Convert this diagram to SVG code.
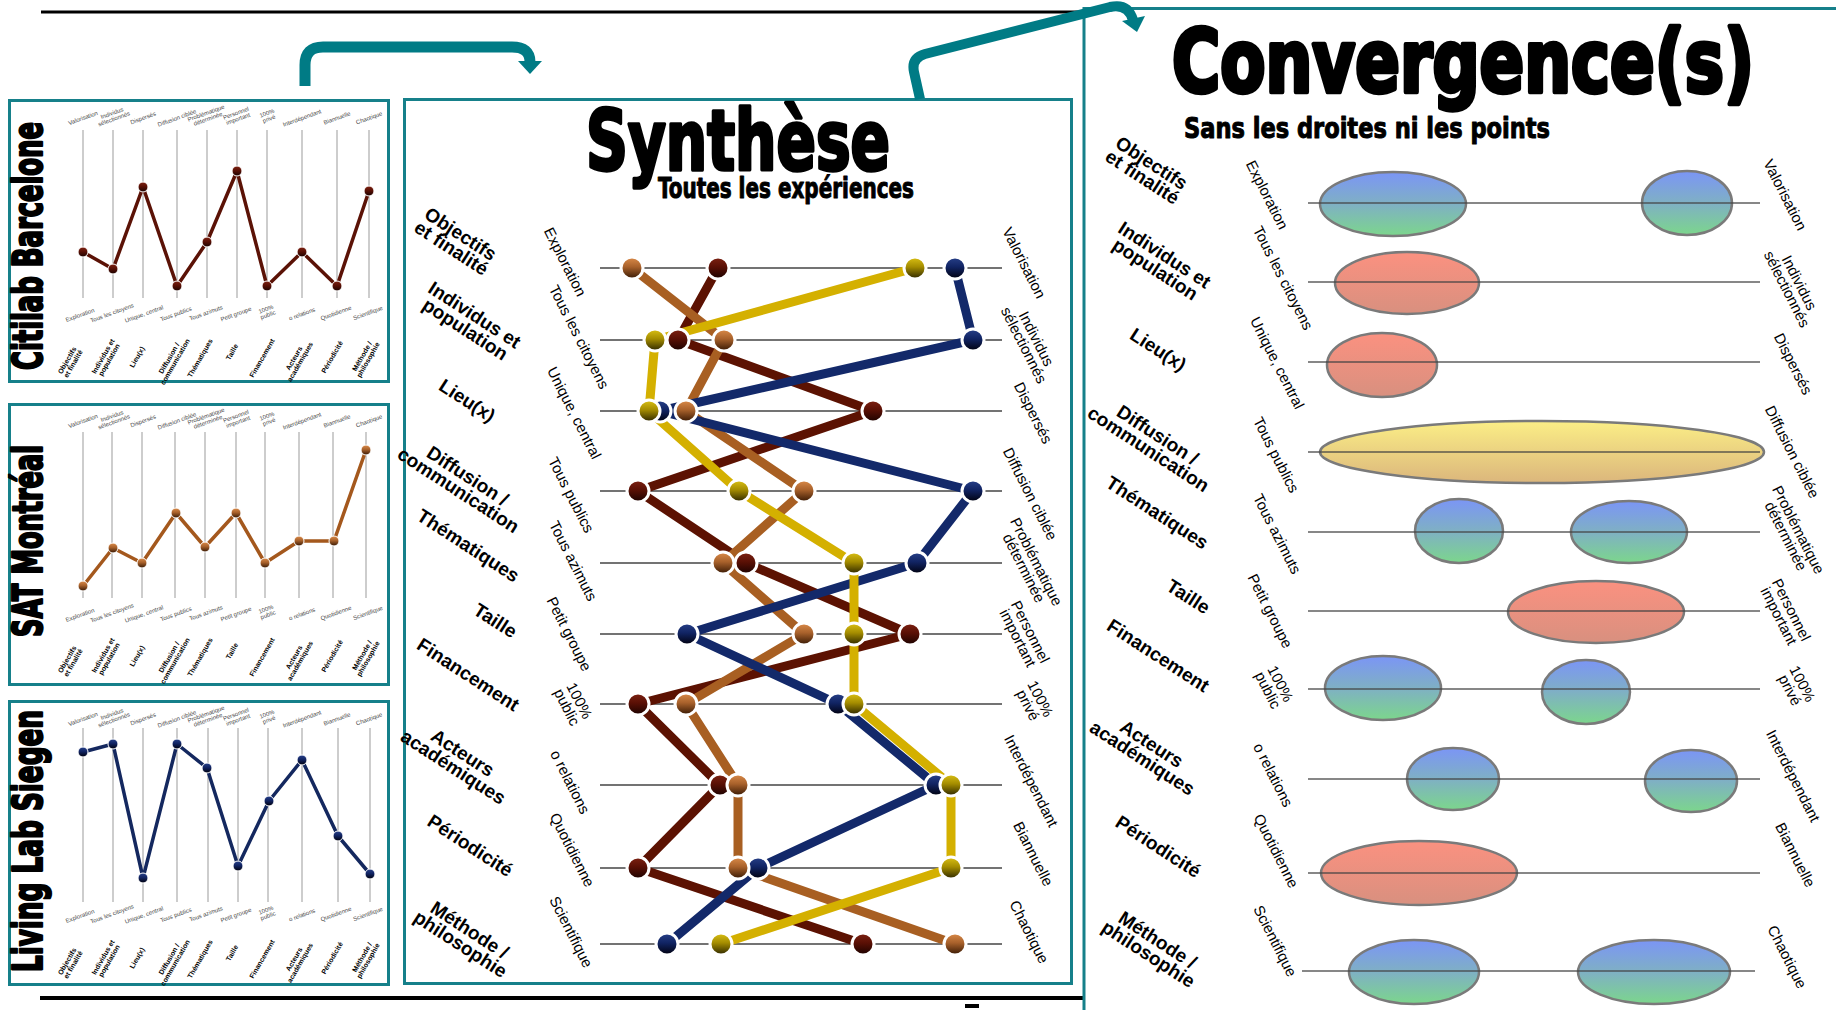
<svg xmlns="http://www.w3.org/2000/svg" width="1836" height="1010" viewBox="0 0 1836 1010">
<defs>
<style>
text{font-family:"Liberation Sans",Arial,sans-serif;fill:#000}
.panel{fill:#fff;stroke:#16808a;stroke-width:3}
.ttl{font-family:"Liberation Sans Narrow","DejaVu Sans Condensed","Liberation Sans",sans-serif;font-weight:700;stroke:#000;stroke-linejoin:round}
.cat{font-weight:700;font-size:19px;text-anchor:middle}
.pole{font-size:15px;text-anchor:middle}
.ax{stroke:#444;stroke-width:1.5}
.mg{stroke:#bdbdbd;stroke-width:1.5}
.ml{font-size:6px;fill:#444;text-anchor:middle}
.mc{font-size:7px;font-weight:700;text-anchor:middle}
.arrow{fill:none;stroke:#007b85;stroke-width:11}
.ah{fill:#007b85}
.s{fill:none;stroke-width:9;stroke-linejoin:round}
.ms{fill:none;stroke-width:3.5;stroke-linejoin:round}
.dot{stroke:#fff;stroke-width:3}
.mdot{stroke:#fff;stroke-width:1}
.ell{stroke:#7a7a7a;stroke-width:2.5}
.bl{stroke:#000;stroke-width:4}
</style>
<linearGradient id="gR" x1="0" y1="0" x2="0" y2="1"><stop offset="0" stop-color="#7e2212"/><stop offset="0.45" stop-color="#5a1005"/><stop offset="1" stop-color="#1a0200"/></linearGradient>
<linearGradient id="gO" x1="0" y1="0" x2="0" y2="1"><stop offset="0" stop-color="#dc8c4a"/><stop offset="0.45" stop-color="#a8612b"/><stop offset="1" stop-color="#351703"/></linearGradient>
<linearGradient id="gY" x1="0" y1="0" x2="0" y2="1"><stop offset="0" stop-color="#dcc215"/><stop offset="0.45" stop-color="#a48c00"/><stop offset="1" stop-color="#2b2500"/></linearGradient>
<linearGradient id="gN" x1="0" y1="0" x2="0" y2="1"><stop offset="0" stop-color="#28418a"/><stop offset="0.45" stop-color="#112463"/><stop offset="1" stop-color="#00000c"/></linearGradient>
<linearGradient id="eB" x1="0" y1="0" x2="0" y2="1"><stop offset="0" stop-color="#7b95f6"/><stop offset="0.5" stop-color="#7fb0c4"/><stop offset="1" stop-color="#7cd68c"/></linearGradient>
<linearGradient id="eS" x1="0" y1="0" x2="0" y2="1"><stop offset="0" stop-color="#fb9180"/><stop offset="1" stop-color="#d8907f"/></linearGradient>
<linearGradient id="eY" x1="0" y1="0" x2="0" y2="1"><stop offset="0" stop-color="#fbee86"/><stop offset="1" stop-color="#dbb67c"/></linearGradient>
</defs>
<rect width="1836" height="1010" fill="#fff"/>

<!-- frame lines -->
<g id="frame">
<line class="bl" x1="41" y1="12" x2="1084" y2="12" style="stroke-width:3"/>
<line class="bl" x1="40" y1="998" x2="1084" y2="998"/>
<rect x="965" y="1004" width="14" height="4" fill="#000"/>
</g>

<!-- Panel 1: Citilab Barcelone -->
<g id="citilab">
<rect class="panel" x="9.5" y="100.5" width="379" height="281"/>
<text class="ttl" font-size="40" style="stroke-width:2.2" transform="translate(42,370) rotate(-90)" textLength="248" lengthAdjust="spacingAndGlyphs">Citilab Barcelone</text>
<g>
<line class="mg" x1="83" y1="130" x2="83" y2="298"/><line class="mg" x1="113" y1="130" x2="113" y2="298"/><line class="mg" x1="143" y1="130" x2="143" y2="298"/><line class="mg" x1="177" y1="130" x2="177" y2="298"/><line class="mg" x1="207" y1="130" x2="207" y2="298"/><line class="mg" x1="237" y1="130" x2="237" y2="298"/><line class="mg" x1="267" y1="130" x2="267" y2="298"/><line class="mg" x1="302" y1="130" x2="302" y2="298"/><line class="mg" x1="337" y1="130" x2="337" y2="298"/><line class="mg" x1="369" y1="130" x2="369" y2="298"/>
</g>
<g>
<text class="ml" transform="translate(83,118) rotate(-20)" dy="2">Valorisation</text>
<text class="ml" transform="translate(113,116) rotate(-20)"><tspan x="0" dy="-1">Individus</tspan><tspan x="0" dy="6">sélectionnés</tspan></text>
<text class="ml" transform="translate(143,118) rotate(-20)" dy="2">Dispersés</text>
<text class="ml" transform="translate(177,118) rotate(-20)" dy="2">Diffusion ciblée</text>
<text class="ml" transform="translate(207,116) rotate(-20)"><tspan x="0" dy="-1">Problématique</tspan><tspan x="0" dy="6">déterminée</tspan></text>
<text class="ml" transform="translate(237,116) rotate(-20)"><tspan x="0" dy="-1">Personnel</tspan><tspan x="0" dy="6">important</tspan></text>
<text class="ml" transform="translate(268,116) rotate(-20)"><tspan x="0" dy="-1">100%</tspan><tspan x="0" dy="6">privé</tspan></text>
<text class="ml" transform="translate(302,118) rotate(-20)" dy="2">Interdépendant</text>
<text class="ml" transform="translate(337,118) rotate(-20)" dy="2">Biannuelle</text>
<text class="ml" transform="translate(369,118) rotate(-20)" dy="2">Chaotique</text>
<text class="ml" transform="translate(80,315) rotate(-20)" dy="2">Exploration</text>
<text class="ml" transform="translate(112,313) rotate(-20)" dy="2">Tous les citoyens</text>
<text class="ml" transform="translate(144,314) rotate(-20)" dy="2">Unique, central</text>
<text class="ml" transform="translate(176,314) rotate(-20)" dy="2">Tous publics</text>
<text class="ml" transform="translate(206,313) rotate(-20)" dy="2">Tous azimuts</text>
<text class="ml" transform="translate(236,314) rotate(-20)" dy="2">Petit groupe</text>
<text class="ml" transform="translate(267,312) rotate(-20)"><tspan x="0" dy="-1">100%</tspan><tspan x="0" dy="6">public</tspan></text>
<text class="ml" transform="translate(302,314) rotate(-20)" dy="2">o relations</text>
<text class="ml" transform="translate(336,313) rotate(-20)" dy="2">Quotidienne</text>
<text class="ml" transform="translate(368,313) rotate(-20)" dy="2">Scientifique</text>
<text class="mc" transform="translate(70,362) rotate(-60)"><tspan x="0" dy="-1">Objectifs</tspan><tspan x="0" dy="7">et finalité</tspan></text>
<text class="mc" transform="translate(106,358) rotate(-60)"><tspan x="0" dy="-1">Individus et</tspan><tspan x="0" dy="7">population</tspan></text>
<text class="mc" transform="translate(137,357) rotate(-60)" dy="2.5">Lieu(x)</text>
<text class="mc" transform="translate(172,360) rotate(-60)"><tspan x="0" dy="-1">Diffusion /</tspan><tspan x="0" dy="7">communication</tspan></text>
<text class="mc" transform="translate(200,358) rotate(-60)" dy="2.5">Thématiques</text>
<text class="mc" transform="translate(232,352) rotate(-60)" dy="2.5">Taille</text>
<text class="mc" transform="translate(262,358) rotate(-60)" dy="2.5">Financement</text>
<text class="mc" transform="translate(297,360) rotate(-60)"><tspan x="0" dy="-1">Acteurs</tspan><tspan x="0" dy="7">académiques</tspan></text>
<text class="mc" transform="translate(332,357) rotate(-60)" dy="2.5">Périodicité</text>
<text class="mc" transform="translate(365,358) rotate(-60)"><tspan x="0" dy="-1">Méthode /</tspan><tspan x="0" dy="7">philosophie</tspan></text>
</g>
<polyline class="ms" stroke="#5b1206" points="83,252 113,269 143,187 177,286 207,242 237,171 267,286 302,252 337,286 369,191"/>
<g fill="url(#gR)" class="mdot"><circle cx="83" cy="252" r="5"/><circle cx="113" cy="269" r="5"/><circle cx="143" cy="187" r="5"/><circle cx="177" cy="286" r="5"/><circle cx="207" cy="242" r="5"/><circle cx="237" cy="171" r="5"/><circle cx="267" cy="286" r="5"/><circle cx="302" cy="252" r="5"/><circle cx="337" cy="286" r="5"/><circle cx="369" cy="191" r="5"/></g>
</g>

<!-- Panel 2: SAT Montréal -->
<g id="sat">
<rect class="panel" x="9.5" y="404.5" width="379" height="280"/>
<text class="ttl" font-size="40" style="stroke-width:2.2" transform="translate(42,637) rotate(-90)" textLength="192" lengthAdjust="spacingAndGlyphs">SAT Montréal</text>
<g>
<line class="mg" x1="83" y1="432" x2="83" y2="598"/><line class="mg" x1="112" y1="432" x2="112" y2="598"/><line class="mg" x1="142" y1="432" x2="142" y2="598"/><line class="mg" x1="175" y1="432" x2="175" y2="598"/><line class="mg" x1="205" y1="432" x2="205" y2="598"/><line class="mg" x1="236" y1="432" x2="236" y2="598"/><line class="mg" x1="265" y1="432" x2="265" y2="598"/><line class="mg" x1="299" y1="432" x2="299" y2="598"/><line class="mg" x1="333" y1="432" x2="333" y2="598"/><line class="mg" x1="366" y1="432" x2="366" y2="598"/>
</g>
<g transform="translate(0,303)">
<text class="ml" transform="translate(83,118) rotate(-20)" dy="2">Valorisation</text>
<text class="ml" transform="translate(113,116) rotate(-20)"><tspan x="0" dy="-1">Individus</tspan><tspan x="0" dy="6">sélectionnés</tspan></text>
<text class="ml" transform="translate(143,118) rotate(-20)" dy="2">Dispersés</text>
<text class="ml" transform="translate(177,118) rotate(-20)" dy="2">Diffusion ciblée</text>
<text class="ml" transform="translate(207,116) rotate(-20)"><tspan x="0" dy="-1">Problématique</tspan><tspan x="0" dy="6">déterminée</tspan></text>
<text class="ml" transform="translate(237,116) rotate(-20)"><tspan x="0" dy="-1">Personnel</tspan><tspan x="0" dy="6">important</tspan></text>
<text class="ml" transform="translate(268,116) rotate(-20)"><tspan x="0" dy="-1">100%</tspan><tspan x="0" dy="6">privé</tspan></text>
<text class="ml" transform="translate(302,118) rotate(-20)" dy="2">Interdépendant</text>
<text class="ml" transform="translate(337,118) rotate(-20)" dy="2">Biannuelle</text>
<text class="ml" transform="translate(369,118) rotate(-20)" dy="2">Chaotique</text>
<text class="ml" transform="translate(80,312) rotate(-20)" dy="2">Exploration</text>
<text class="ml" transform="translate(112,310) rotate(-20)" dy="2">Tous les citoyens</text>
<text class="ml" transform="translate(144,311) rotate(-20)" dy="2">Unique, central</text>
<text class="ml" transform="translate(176,311) rotate(-20)" dy="2">Tous publics</text>
<text class="ml" transform="translate(206,310) rotate(-20)" dy="2">Tous azimuts</text>
<text class="ml" transform="translate(236,311) rotate(-20)" dy="2">Petit groupe</text>
<text class="ml" transform="translate(267,309) rotate(-20)"><tspan x="0" dy="-1">100%</tspan><tspan x="0" dy="6">public</tspan></text>
<text class="ml" transform="translate(302,311) rotate(-20)" dy="2">o relations</text>
<text class="ml" transform="translate(336,310) rotate(-20)" dy="2">Quotidienne</text>
<text class="ml" transform="translate(368,310) rotate(-20)" dy="2">Scientifique</text>
<text class="mc" transform="translate(70,358) rotate(-60)"><tspan x="0" dy="-1">Objectifs</tspan><tspan x="0" dy="7">et finalité</tspan></text>
<text class="mc" transform="translate(106,354) rotate(-60)"><tspan x="0" dy="-1">Individus et</tspan><tspan x="0" dy="7">population</tspan></text>
<text class="mc" transform="translate(137,353) rotate(-60)" dy="2.5">Lieu(x)</text>
<text class="mc" transform="translate(172,356) rotate(-60)"><tspan x="0" dy="-1">Diffusion /</tspan><tspan x="0" dy="7">communication</tspan></text>
<text class="mc" transform="translate(200,354) rotate(-60)" dy="2.5">Thématiques</text>
<text class="mc" transform="translate(232,348) rotate(-60)" dy="2.5">Taille</text>
<text class="mc" transform="translate(262,354) rotate(-60)" dy="2.5">Financement</text>
<text class="mc" transform="translate(297,356) rotate(-60)"><tspan x="0" dy="-1">Acteurs</tspan><tspan x="0" dy="7">académiques</tspan></text>
<text class="mc" transform="translate(332,353) rotate(-60)" dy="2.5">Périodicité</text>
<text class="mc" transform="translate(365,354) rotate(-60)"><tspan x="0" dy="-1">Méthode /</tspan><tspan x="0" dy="7">philosophie</tspan></text>
</g>
<polyline class="ms" stroke="#a4581d" points="83,586 113,548 142,563 176,513 205,547 236,513 265,563 299,541 334,541 366,450"/>
<g fill="url(#gO)" class="mdot"><circle cx="83" cy="586" r="5"/><circle cx="113" cy="548" r="5"/><circle cx="142" cy="563" r="5"/><circle cx="176" cy="513" r="5"/><circle cx="205" cy="547" r="5"/><circle cx="236" cy="513" r="5"/><circle cx="265" cy="563" r="5"/><circle cx="299" cy="541" r="5"/><circle cx="334" cy="541" r="5"/><circle cx="366" cy="450" r="5"/></g>
</g>

<!-- Panel 3: Living Lab Siegen -->
<g id="siegen">
<rect class="panel" x="9.5" y="701.5" width="379" height="283"/>
<text class="ttl" font-size="40" style="stroke-width:2.2" transform="translate(42,972) rotate(-90)" textLength="262" lengthAdjust="spacingAndGlyphs">Living Lab Siegen</text>
<g>
<line class="mg" x1="83" y1="728" x2="83" y2="902"/><line class="mg" x1="113" y1="728" x2="113" y2="902"/><line class="mg" x1="143" y1="728" x2="143" y2="902"/><line class="mg" x1="177" y1="728" x2="177" y2="902"/><line class="mg" x1="208" y1="728" x2="208" y2="902"/><line class="mg" x1="238" y1="728" x2="238" y2="902"/><line class="mg" x1="268" y1="728" x2="268" y2="902"/><line class="mg" x1="302" y1="728" x2="302" y2="902"/><line class="mg" x1="338" y1="728" x2="338" y2="902"/><line class="mg" x1="370" y1="728" x2="370" y2="902"/>
</g>
<g transform="translate(0,601)">
<text class="ml" transform="translate(83,118) rotate(-20)" dy="2">Valorisation</text>
<text class="ml" transform="translate(113,116) rotate(-20)"><tspan x="0" dy="-1">Individus</tspan><tspan x="0" dy="6">sélectionnés</tspan></text>
<text class="ml" transform="translate(143,118) rotate(-20)" dy="2">Dispersés</text>
<text class="ml" transform="translate(177,118) rotate(-20)" dy="2">Diffusion ciblée</text>
<text class="ml" transform="translate(207,116) rotate(-20)"><tspan x="0" dy="-1">Problématique</tspan><tspan x="0" dy="6">déterminée</tspan></text>
<text class="ml" transform="translate(237,116) rotate(-20)"><tspan x="0" dy="-1">Personnel</tspan><tspan x="0" dy="6">important</tspan></text>
<text class="ml" transform="translate(268,116) rotate(-20)"><tspan x="0" dy="-1">100%</tspan><tspan x="0" dy="6">privé</tspan></text>
<text class="ml" transform="translate(302,118) rotate(-20)" dy="2">Interdépendant</text>
<text class="ml" transform="translate(337,118) rotate(-20)" dy="2">Biannuelle</text>
<text class="ml" transform="translate(369,118) rotate(-20)" dy="2">Chaotique</text>
<text class="ml" transform="translate(80,315) rotate(-20)" dy="2">Exploration</text>
<text class="ml" transform="translate(112,313) rotate(-20)" dy="2">Tous les citoyens</text>
<text class="ml" transform="translate(144,314) rotate(-20)" dy="2">Unique, central</text>
<text class="ml" transform="translate(176,314) rotate(-20)" dy="2">Tous publics</text>
<text class="ml" transform="translate(206,313) rotate(-20)" dy="2">Tous azimuts</text>
<text class="ml" transform="translate(236,314) rotate(-20)" dy="2">Petit groupe</text>
<text class="ml" transform="translate(267,312) rotate(-20)"><tspan x="0" dy="-1">100%</tspan><tspan x="0" dy="6">public</tspan></text>
<text class="ml" transform="translate(302,314) rotate(-20)" dy="2">o relations</text>
<text class="ml" transform="translate(336,313) rotate(-20)" dy="2">Quotidienne</text>
<text class="ml" transform="translate(368,313) rotate(-20)" dy="2">Scientifique</text>
<text class="mc" transform="translate(70,362) rotate(-60)"><tspan x="0" dy="-1">Objectifs</tspan><tspan x="0" dy="7">et finalité</tspan></text>
<text class="mc" transform="translate(106,358) rotate(-60)"><tspan x="0" dy="-1">Individus et</tspan><tspan x="0" dy="7">population</tspan></text>
<text class="mc" transform="translate(137,357) rotate(-60)" dy="2.5">Lieu(x)</text>
<text class="mc" transform="translate(172,360) rotate(-60)"><tspan x="0" dy="-1">Diffusion /</tspan><tspan x="0" dy="7">communication</tspan></text>
<text class="mc" transform="translate(200,358) rotate(-60)" dy="2.5">Thématiques</text>
<text class="mc" transform="translate(232,352) rotate(-60)" dy="2.5">Taille</text>
<text class="mc" transform="translate(262,358) rotate(-60)" dy="2.5">Financement</text>
<text class="mc" transform="translate(297,360) rotate(-60)"><tspan x="0" dy="-1">Acteurs</tspan><tspan x="0" dy="7">académiques</tspan></text>
<text class="mc" transform="translate(332,357) rotate(-60)" dy="2.5">Périodicité</text>
<text class="mc" transform="translate(365,358) rotate(-60)"><tspan x="0" dy="-1">Méthode /</tspan><tspan x="0" dy="7">philosophie</tspan></text>
</g>
<polyline class="ms" stroke="#14285f" points="83,752 113,744 143,878 177,744 207,768 238,866 269,801 302,760 338,836 370,874"/>
<g fill="url(#gN)" class="mdot"><circle cx="83" cy="752" r="5"/><circle cx="113" cy="744" r="5"/><circle cx="143" cy="878" r="5"/><circle cx="177" cy="744" r="5"/><circle cx="207" cy="768" r="5"/><circle cx="238" cy="866" r="5"/><circle cx="269" cy="801" r="5"/><circle cx="302" cy="760" r="5"/><circle cx="338" cy="836" r="5"/><circle cx="370" cy="874" r="5"/></g>
</g>

<!-- Synthèse panel -->
<g id="synthese">
<rect class="panel" x="404.5" y="99.5" width="667" height="884"/>
<text class="ttl" x="586" y="170" font-size="84" style="stroke-width:3.5" textLength="304" lengthAdjust="spacingAndGlyphs">Synthèse</text>
<text class="ttl" x="658" y="198" font-size="29" style="stroke-width:1" textLength="256" lengthAdjust="spacingAndGlyphs">Toutes les expériences</text>
<g>
<line class="ax" x1="600" y1="268" x2="1002" y2="268"/><line class="ax" x1="600" y1="340" x2="1002" y2="340"/><line class="ax" x1="600" y1="411" x2="1002" y2="411"/><line class="ax" x1="600" y1="491" x2="1002" y2="491"/><line class="ax" x1="600" y1="563" x2="1002" y2="563"/><line class="ax" x1="600" y1="634" x2="1002" y2="634"/><line class="ax" x1="600" y1="704" x2="1002" y2="704"/><line class="ax" x1="600" y1="785" x2="1002" y2="785"/><line class="ax" x1="600" y1="868" x2="1002" y2="868"/><line class="ax" x1="600" y1="944" x2="1002" y2="944"/>
</g>
<g>
<text class="cat" transform="translate(456,241) rotate(33)"><tspan x="0" dy="-2">Objectifs</tspan><tspan x="0" dy="17">et finalité</tspan></text>
<text class="cat" transform="translate(470,322) rotate(33)"><tspan x="0" dy="-2">Individus et</tspan><tspan x="0" dy="17">population</tspan></text>
<text class="cat" transform="translate(467,401) rotate(33)" dy="6">Lieu(x)</text>
<text class="cat" transform="translate(463,483) rotate(33)"><tspan x="0" dy="-2">Diffusion /</tspan><tspan x="0" dy="17">communication</tspan></text>
<text class="cat" transform="translate(468,546) rotate(33)" dy="6">Thématiques</text>
<text class="cat" transform="translate(495,621) rotate(33)" dy="6">Taille</text>
<text class="cat" transform="translate(468,675) rotate(33)" dy="6">Financement</text>
<text class="cat" transform="translate(458,760) rotate(33)"><tspan x="0" dy="-2">Acteurs</tspan><tspan x="0" dy="17">académiques</tspan></text>
<text class="cat" transform="translate(470,846) rotate(33)" dy="6">Périodicité</text>
<text class="cat" transform="translate(465,937) rotate(33)"><tspan x="0" dy="-2">Méthode /</tspan><tspan x="0" dy="17">philosophie</tspan></text>
</g>
<g>
<text class="pole" transform="translate(565,262) rotate(63)" dy="5">Exploration</text>
<text class="pole" transform="translate(579,337) rotate(63)" dy="5">Tous les citoyens</text>
<text class="pole" transform="translate(574,413) rotate(63)" dy="5">Unique, central</text>
<text class="pole" transform="translate(571,495) rotate(63)" dy="5">Tous publics</text>
<text class="pole" transform="translate(573,561) rotate(63)" dy="5">Tous azimuts</text>
<text class="pole" transform="translate(569,634) rotate(63)" dy="5">Petit groupe</text>
<text class="pole" transform="translate(573,704) rotate(63)"><tspan x="0" dy="-2">100%</tspan><tspan x="0" dy="14">public</tspan></text>
<text class="pole" transform="translate(570,782) rotate(63)" dy="5">o relations</text>
<text class="pole" transform="translate(572,850) rotate(63)" dy="5">Quotidienne</text>
<text class="pole" transform="translate(571,932) rotate(63)" dy="5">Scientifique</text>
<text class="pole" transform="translate(1024,263) rotate(63)" dy="5">Valorisation</text>
<text class="pole" transform="translate(1030,342) rotate(63)"><tspan x="0" dy="-2">Individus</tspan><tspan x="0" dy="14">sélectionnés</tspan></text>
<text class="pole" transform="translate(1033,413) rotate(63)" dy="5">Dispersés</text>
<text class="pole" transform="translate(1030,494) rotate(63)" dy="5">Diffusion ciblée</text>
<text class="pole" transform="translate(1030,565) rotate(63)"><tspan x="0" dy="-2">Problématique</tspan><tspan x="0" dy="14">déterminée</tspan></text>
<text class="pole" transform="translate(1024,635) rotate(63)"><tspan x="0" dy="-2">Personnel</tspan><tspan x="0" dy="14">important</tspan></text>
<text class="pole" transform="translate(1034,702) rotate(63)"><tspan x="0" dy="-2">100%</tspan><tspan x="0" dy="14">privé</tspan></text>
<text class="pole" transform="translate(1031,781) rotate(63)" dy="5">Interdépendant</text>
<text class="pole" transform="translate(1033,854) rotate(63)" dy="5">Biannuelle</text>
<text class="pole" transform="translate(1029,932) rotate(63)" dy="5">Chaotique</text>
</g>
<g id="synth-series">
<polyline class="s" stroke="#5c1202" points="718,268 678,340 873,411 638,491 746,563 910,634 638,704 720,785 638,868 863,944"/>
<polyline class="s" stroke="#a85f22" points="632,268 724,340 686,411 804,491 723,563 804,634 686,704 738,785 738,868 955,944"/>
<polyline class="s" stroke="#13296a" points="955,268 973,340 660,411 973,491 917,563 687,634 838,704 936,785 758,868 667,944"/>
<polyline class="s" stroke="#d4b000" points="915,268 655,340 649,411 739,491 854,563 854,634 854,704 951,785 951,868 721,944"/>
</g>
<g id="synth-dots">
<g fill="url(#gN)" class="dot"><circle cx="955" cy="268" r="11"/><circle cx="973" cy="340" r="11"/><circle cx="660" cy="411" r="11"/><circle cx="973" cy="491" r="11"/><circle cx="917" cy="563" r="11"/><circle cx="687" cy="634" r="11"/><circle cx="838" cy="704" r="11"/><circle cx="936" cy="785" r="11"/><circle cx="758" cy="868" r="11"/><circle cx="667" cy="944" r="11"/></g>
<g fill="url(#gR)" class="dot"><circle cx="718" cy="268" r="11"/><circle cx="678" cy="340" r="11"/><circle cx="873" cy="411" r="11"/><circle cx="638" cy="491" r="11"/><circle cx="746" cy="563" r="11"/><circle cx="910" cy="634" r="11"/><circle cx="638" cy="704" r="11"/><circle cx="720" cy="785" r="11"/><circle cx="638" cy="868" r="11"/><circle cx="863" cy="944" r="11"/></g>
<g fill="url(#gO)" class="dot"><circle cx="632" cy="268" r="11"/><circle cx="724" cy="340" r="11"/><circle cx="686" cy="411" r="11"/><circle cx="804" cy="491" r="11"/><circle cx="723" cy="563" r="11"/><circle cx="804" cy="634" r="11"/><circle cx="686" cy="704" r="11"/><circle cx="738" cy="785" r="11"/><circle cx="738" cy="868" r="11"/><circle cx="955" cy="944" r="11"/></g>
<g fill="url(#gY)" class="dot"><circle cx="915" cy="268" r="11"/><circle cx="655" cy="340" r="11"/><circle cx="649" cy="411" r="11"/><circle cx="739" cy="491" r="11"/><circle cx="854" cy="563" r="11"/><circle cx="854" cy="634" r="11"/><circle cx="854" cy="704" r="11"/><circle cx="951" cy="785" r="11"/><circle cx="951" cy="868" r="11"/><circle cx="721" cy="944" r="11"/></g>
</g>
</g>

<!-- Convergence panel -->
<g id="convergence">
<path d="M1084,1010 V8.5 H1836" fill="none" stroke="#16808a" stroke-width="3"/>
<text class="ttl" x="1463" y="92" font-size="88" text-anchor="middle" style="stroke-width:4.5" textLength="582" lengthAdjust="spacingAndGlyphs">Convergence(s)</text>
<text class="ttl" x="1184" y="138" font-size="29" style="stroke-width:1" textLength="366" lengthAdjust="spacingAndGlyphs">Sans les droites ni les points</text>
<g>
<ellipse class="ell" fill="url(#eB)" cx="1393" cy="204" rx="73" ry="32"/>
<ellipse class="ell" fill="url(#eB)" cx="1687" cy="203" rx="45" ry="32"/>
<ellipse class="ell" fill="url(#eS)" cx="1407" cy="283" rx="72" ry="31"/>
<ellipse class="ell" fill="url(#eS)" cx="1382" cy="365" rx="55" ry="32"/>
<ellipse class="ell" fill="url(#eY)" cx="1542" cy="452" rx="222" ry="31"/>
<ellipse class="ell" fill="url(#eB)" cx="1459" cy="531" rx="44" ry="32"/>
<ellipse class="ell" fill="url(#eB)" cx="1629" cy="532" rx="58" ry="31"/>
<ellipse class="ell" fill="url(#eS)" cx="1596" cy="612" rx="88" ry="31"/>
<ellipse class="ell" fill="url(#eB)" cx="1383" cy="688" rx="58" ry="32"/>
<ellipse class="ell" fill="url(#eB)" cx="1586" cy="692" rx="44" ry="32"/>
<ellipse class="ell" fill="url(#eB)" cx="1453" cy="779" rx="46" ry="31"/>
<ellipse class="ell" fill="url(#eB)" cx="1691" cy="781" rx="46" ry="31"/>
<ellipse class="ell" fill="url(#eS)" cx="1419" cy="873" rx="98" ry="32"/>
<ellipse class="ell" fill="url(#eB)" cx="1414" cy="972" rx="65" ry="32"/>
<ellipse class="ell" fill="url(#eB)" cx="1654" cy="972" rx="76" ry="32"/>
</g>
<g opacity="0.85">
<line class="ax" x1="1308" y1="203" x2="1760" y2="203"/><line class="ax" x1="1308" y1="282" x2="1760" y2="282"/><line class="ax" x1="1308" y1="362" x2="1760" y2="362"/><line class="ax" x1="1308" y1="452" x2="1760" y2="452"/><line class="ax" x1="1308" y1="532" x2="1760" y2="532"/><line class="ax" x1="1308" y1="611" x2="1760" y2="611"/><line class="ax" x1="1308" y1="689" x2="1760" y2="689"/><line class="ax" x1="1308" y1="779" x2="1760" y2="779"/><line class="ax" x1="1308" y1="873" x2="1760" y2="873"/><line class="ax" x1="1302" y1="971" x2="1755" y2="971"/>
</g>
<g>
<text class="cat" transform="translate(1147,170) rotate(33)"><tspan x="0" dy="-2">Objectifs</tspan><tspan x="0" dy="17">et finalité</tspan></text>
<text class="cat" transform="translate(1160,262) rotate(33)"><tspan x="0" dy="-2">Individus et</tspan><tspan x="0" dy="17">population</tspan></text>
<text class="cat" transform="translate(1158,350) rotate(33)" dy="6">Lieu(x)</text>
<text class="cat" transform="translate(1153,442) rotate(33)"><tspan x="0" dy="-2">Diffusion /</tspan><tspan x="0" dy="17">communication</tspan></text>
<text class="cat" transform="translate(1157,513) rotate(33)" dy="6">Thématiques</text>
<text class="cat" transform="translate(1188,597) rotate(33)" dy="6">Taille</text>
<text class="cat" transform="translate(1158,656) rotate(33)" dy="6">Financement</text>
<text class="cat" transform="translate(1147,751) rotate(33)"><tspan x="0" dy="-2">Acteurs</tspan><tspan x="0" dy="17">académiques</tspan></text>
<text class="cat" transform="translate(1158,847) rotate(33)" dy="6">Périodicité</text>
<text class="cat" transform="translate(1153,947) rotate(33)"><tspan x="0" dy="-2">Méthode /</tspan><tspan x="0" dy="17">philosophie</tspan></text>
</g>
<g>
<text class="pole" transform="translate(1267,195) rotate(63)" dy="5">Exploration</text>
<text class="pole" transform="translate(1283,278) rotate(63)" dy="5">Tous les citoyens</text>
<text class="pole" transform="translate(1277,363) rotate(63)" dy="5">Unique, central</text>
<text class="pole" transform="translate(1276,455) rotate(63)" dy="5">Tous publics</text>
<text class="pole" transform="translate(1277,534) rotate(63)" dy="5">Tous azimuts</text>
<text class="pole" transform="translate(1270,611) rotate(63)" dy="5">Petit groupe</text>
<text class="pole" transform="translate(1274,687) rotate(63)"><tspan x="0" dy="-2">100%</tspan><tspan x="0" dy="14">public</tspan></text>
<text class="pole" transform="translate(1273,775) rotate(63)" dy="5">o relations</text>
<text class="pole" transform="translate(1276,851) rotate(63)" dy="5">Quotidienne</text>
<text class="pole" transform="translate(1275,941) rotate(63)" dy="5">Scientifique</text>
<text class="pole" transform="translate(1785,195) rotate(63)" dy="5">Valorisation</text>
<text class="pole" transform="translate(1793,286) rotate(63)"><tspan x="0" dy="-2">Individus</tspan><tspan x="0" dy="14">sélectionnés</tspan></text>
<text class="pole" transform="translate(1793,364) rotate(63)" dy="5">Dispersés</text>
<text class="pole" transform="translate(1792,452) rotate(63)" dy="5">Diffusion ciblée</text>
<text class="pole" transform="translate(1792,533) rotate(63)"><tspan x="0" dy="-2">Problématique</tspan><tspan x="0" dy="14">déterminée</tspan></text>
<text class="pole" transform="translate(1785,613) rotate(63)"><tspan x="0" dy="-2">Personnel</tspan><tspan x="0" dy="14">important</tspan></text>
<text class="pole" transform="translate(1796,687) rotate(63)"><tspan x="0" dy="-2">100%</tspan><tspan x="0" dy="14">privé</tspan></text>
<text class="pole" transform="translate(1793,776) rotate(63)" dy="5">Interdépendant</text>
<text class="pole" transform="translate(1795,855) rotate(63)" dy="5">Biannuelle</text>
<text class="pole" transform="translate(1787,957) rotate(63)" dy="5">Chaotique</text>
</g>
</g>

<!-- Connectors -->
<g id="connectors">
<path class="arrow" d="M305,86 V65 Q305,47 323,47 H512 Q530,47 530,62"/>
<polygon class="ah" points="518,61 542,61 530,74"/>
<path class="arrow" style="stroke-width:10" d="M920,99 L914,72 Q911,58 925,54 L1110,7 Q1128,3 1133,20"/>
<polygon class="ah" points="1122,21 1145,16 1137,32"/>
</g>
</svg>
